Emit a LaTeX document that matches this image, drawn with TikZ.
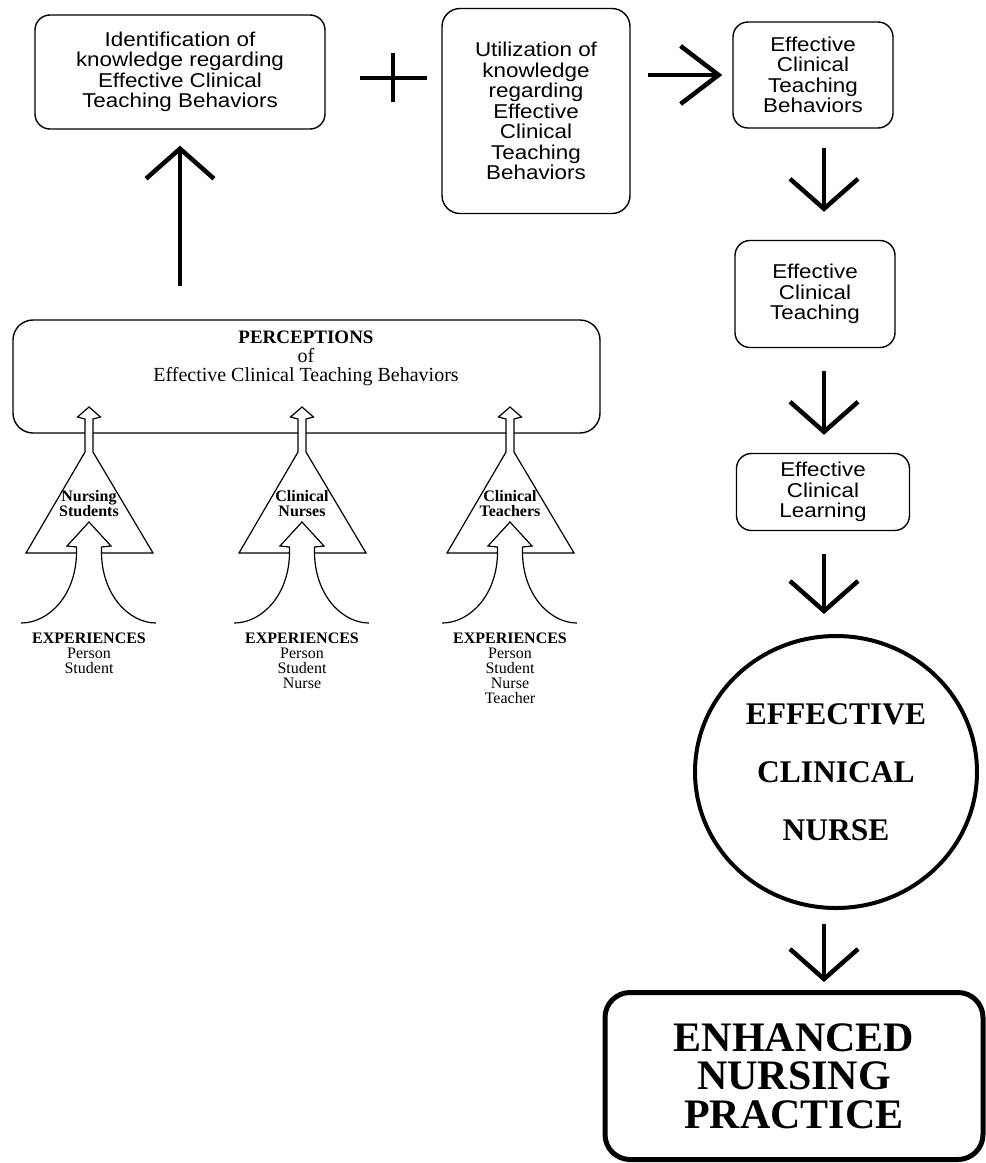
\documentclass[tikz,border=0pt]{standalone}
\usepackage{fontspec}
\setmainfont{Liberation Serif}
\newfontfamily\helv[FakeStretch=1.12]{Liberation Sans}
\usetikzlibrary{arrows.meta,shapes.geometric}
\tikzset{
  sansbox/.style={draw, line width=1.4pt, rounded corners=15pt, align=center,
    inner sep=0pt, font=\helv\fontsize{20}{20.5}\selectfont},
  bigarrow/.style={line width=4.5pt, -{Straight Barb[length=30pt,width=68pt]}},
  hollow/.style={line width=1.2pt, fill=white, line join=miter},
  flare/.style={line width=1.2pt},
  trilabel/.style={align=center, inner sep=0pt, font=\bfseries\fontsize{16}{15}\selectfont},
  explabel/.style={align=center, inner sep=0pt, anchor=north, font=\fontsize{16}{15}\selectfont}
}
\begin{document}
\begin{tikzpicture}[x=1pt,y=-1pt]
\path[fill=white] (0,0) rectangle (986,1163);
\useasboundingbox (0,0) rectangle (986,1163);
\coordinate (axis) at (824,0);
% top row
\node[sansbox, minimum width=290pt, minimum height=114pt] (ident) at (180,72)
  {Identification of\\knowledge regarding\\Effective Clinical\\Teaching Behaviors};
\node[sansbox, rounded corners=18pt, minimum width=188pt, minimum height=205pt] (util) at (536,111)
  {Utilization of\\knowledge\\regarding\\Effective\\Clinical\\Teaching\\Behaviors};
\node[sansbox, minimum width=160pt, minimum height=106pt] (ecb) at (813,75)
  {Effective\\Clinical\\Teaching\\Behaviors};
\draw[line width=3.5pt] (360,78) -- (427,78) (393,53) -- (393,102);
\draw[bigarrow, -{Straight Barb[length=38pt,width=58pt]}, shorten <=17pt, shorten >=10pt]
  (util.east |- ecb.west) -- (ecb.west);
% right column
\node[sansbox, minimum width=160pt, minimum height=107pt] (ect) at (815,294)
  {Effective\\Clinical\\Teaching};
\node[sansbox, minimum width=173pt, minimum height=77pt] (ecl) at (823,492)
  {Effective\\Clinical\\Learning};
\node[ellipse, draw, line width=4pt, minimum width=282pt, minimum height=272pt, inner sep=0pt,
  align=center, font=\bfseries\fontsize{31.5}{58}\selectfont] (ecn) at (836,772)
  {EFFECTIVE\\CLINICAL\\NURSE};
\node[draw, line width=5pt, rounded corners=25pt, minimum width=378pt, minimum height=167pt,
  inner sep=0pt, align=center, font=\bfseries\fontsize{42}{38.5}\selectfont] (enp) at (794,1076)
  {ENHANCED\\NURSING\\PRACTICE};
\draw[bigarrow, shorten <=19pt, shorten >=28pt] (ecb.south -| axis) -- (ect.north -| axis);
\draw[bigarrow, shorten <=23pt, shorten >=18pt] (ect.south -| axis) -- (ecl.north -| axis);
\draw[bigarrow, shorten <=23pt, shorten >=20pt] (ecl.south -| axis) -- (ecn.north -| axis);
\draw[bigarrow, shorten <=14pt, shorten >=8pt] (ecn.south -| axis) -- (enp.north -| axis);
% perceptions
\node[draw, line width=1.4pt, rounded corners=20pt, minimum width=587pt, minimum height=113pt] (perc) at (306.5,376.5) {};
\node[align=center, inner sep=0pt, font=\fontsize{20}{19}\selectfont] (perctext) at (306,358)
  {\textbf{\fontsize{19}{19}\selectfont PERCEPTIONS}\\of\\Effective Clinical Teaching Behaviors};
\draw[bigarrow, shorten <=33pt, shorten >=16pt] (perc.north -| ident.south) -- (ident.south);
\foreach \cx/\who/\exper [count=\i] in {
  89/{Nursing\\Students}/{Person\\Student},
  302/{Clinical\\Nurses}/{Person\\Student\\Nurse},
  510/{Clinical\\Teachers}/{Person\\Student\\Nurse\\Teacher}}
{
  \draw[hollow] (\cx-63,553) -- (\cx-12.5,553) -- (\cx-12.5,547) -- (\cx-22,546) -- (\cx,522)
    -- (\cx+22,546) -- (\cx+12.5,547) -- (\cx+12.5,553) -- (\cx+64,553) -- (\cx+4,452)
    -- (\cx+4,419) -- (\cx+11.5,417) -- (\cx,407) -- (\cx-11.5,417) -- (\cx-4,419)
    -- (\cx-4,452) -- cycle;
  \draw[flare] (\cx-12.5,553) .. controls (\cx-13,595) and (\cx-40,623) .. (\cx-68,623);
  \draw[flare] (\cx+12.5,553) .. controls (\cx+13,595) and (\cx+40,623) .. (\cx+67,623);
  \node[trilabel] (who\i) at (\cx,504) {\who};
  \node[explabel] (exp\i) at (\cx,633) {\textbf{EXPERIENCES}\\\exper};
}
\end{tikzpicture}
\end{document}
